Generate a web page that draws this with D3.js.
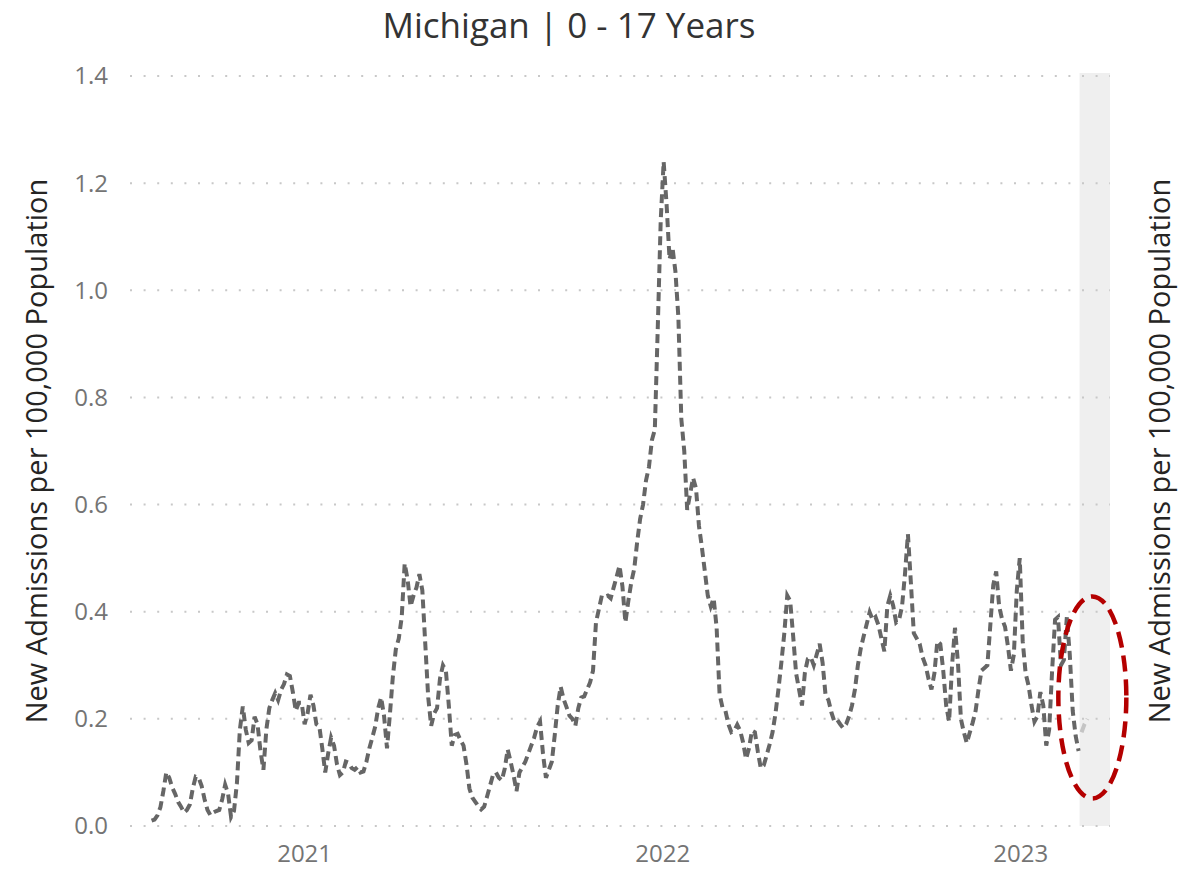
<!DOCTYPE html>
<html>
<head>
<meta charset="utf-8">
<script src="https://cdn.jsdelivr.net/npm/d3@7"></script>
<style>
  body { margin: 0; background: #fff; }
  text { font-family: "Segoe UI", "Open Sans", sans-serif; }
</style>
</head>
<body>
<div id="chart"></div>
<script>
var chartTitle = 'Michigan | 0 - 17 Years';
var axisTitle = 'New Admissions per 100,000 Population';

// one reading every 3 days, starting at firstDay
var firstDay = '2020-07-29';
var stepDays = 3;
var admissions = [
  0.01, 0.012, 0.02, 0.035, 0.065, 0.10, 0.09, 0.072, 0.06, 0.045,
  0.036, 0.025, 0.03, 0.04, 0.07, 0.092, 0.09, 0.075, 0.05, 0.03,
  0.02, 0.025, 0.028, 0.03, 0.05, 0.077, 0.06, 0.017, 0.028, 0.08,
  0.18, 0.223, 0.18, 0.155, 0.16, 0.204, 0.19, 0.14, 0.105, 0.18,
  0.22, 0.235, 0.248, 0.235, 0.254, 0.265, 0.283, 0.28, 0.25, 0.215,
  0.23, 0.23, 0.19, 0.21, 0.245, 0.225, 0.19, 0.186, 0.145, 0.10,
  0.135, 0.165, 0.15, 0.115, 0.095, 0.10, 0.12, 0.118, 0.108, 0.105,
  0.11, 0.10, 0.102, 0.12, 0.145, 0.165, 0.186, 0.22, 0.24, 0.205,
  0.145, 0.21, 0.28, 0.33, 0.35, 0.39, 0.49, 0.46, 0.41, 0.43,
  0.445, 0.47, 0.44, 0.34, 0.24, 0.187, 0.21, 0.22, 0.275, 0.30,
  0.29, 0.225, 0.15, 0.17, 0.172, 0.16, 0.15, 0.115, 0.07, 0.053,
  0.045, 0.037, 0.031, 0.036, 0.055, 0.075, 0.095, 0.10, 0.09, 0.085,
  0.107, 0.143, 0.12, 0.095, 0.065, 0.10, 0.11, 0.12, 0.135, 0.15,
  0.165, 0.185, 0.195, 0.135, 0.09, 0.105, 0.12, 0.17, 0.225, 0.26,
  0.237, 0.222, 0.206, 0.20, 0.187, 0.22, 0.24, 0.242, 0.255, 0.268,
  0.29, 0.38, 0.405, 0.43, 0.428, 0.43, 0.425, 0.445, 0.465, 0.486,
  0.447, 0.38, 0.42, 0.455, 0.48, 0.53, 0.573, 0.60, 0.645, 0.67,
  0.72, 0.74, 0.93, 1.13, 1.24, 1.16, 1.058, 1.08, 1.035, 0.95,
  0.76, 0.70, 0.59, 0.62, 0.65, 0.63, 0.56, 0.52, 0.475, 0.43,
  0.41, 0.425, 0.37, 0.246, 0.221, 0.215, 0.19, 0.175, 0.178, 0.189,
  0.178, 0.156, 0.125, 0.145, 0.178, 0.175, 0.139, 0.108, 0.113, 0.132,
  0.152, 0.175, 0.21, 0.255, 0.305, 0.36, 0.43, 0.42, 0.355, 0.285,
  0.255, 0.225, 0.287, 0.312, 0.315, 0.30, 0.32, 0.34, 0.305, 0.245,
  0.235, 0.212, 0.195, 0.198, 0.19, 0.183, 0.19, 0.205, 0.225, 0.255,
  0.30, 0.332, 0.355, 0.377, 0.399, 0.385, 0.39, 0.375, 0.35, 0.326,
  0.41, 0.43, 0.411, 0.38, 0.385, 0.41, 0.47, 0.545, 0.455, 0.36,
  0.35, 0.34, 0.315, 0.30, 0.275, 0.255, 0.285, 0.345, 0.34, 0.29,
  0.225, 0.195, 0.30, 0.37, 0.305, 0.20, 0.175, 0.155, 0.174, 0.193,
  0.215, 0.255, 0.29, 0.295, 0.30, 0.375, 0.45, 0.475, 0.41, 0.386,
  0.372, 0.335, 0.29, 0.32, 0.44, 0.50, 0.345, 0.285, 0.262, 0.225,
  0.195, 0.205, 0.25, 0.225, 0.15, 0.18, 0.29, 0.385, 0.39, 0.30,
  0.31, 0.39, 0.32, 0.215, 0.168, 0.14
];
// most recent (incomplete) readings, drawn lighter
var provisional = [0.175, 0.19, 0.20];

var yTicks = [0, 0.2, 0.4, 0.6, 0.8, 1.0, 1.2, 1.4];
var yearTicks = ['2021-01-01', '2022-01-01', '2023-01-01'];
var xDomain = ['2020-07-07', '2023-04-02'];
var pendingFrom = '2023-03-02';
var highlight = { date: '2023-03-15', value: 0.24 };

function drawChart() {
  var width = 1191, height = 870;
  var plotLeft = 130, plotRight = 1110, plotTop = 76, plotBottom = 826;

  var parse = d3.timeParse('%Y-%m-%d');
  var start = parse(firstDay);

  var rows = admissions.map(function(v, i) {
    return { date: d3.timeDay.offset(start, i * stepDays), value: v };
  });
  var lateRows = provisional.map(function(v, i) {
    return { date: d3.timeDay.offset(start, (admissions.length + i) * stepDays), value: v };
  });

  var x = d3.scaleTime().domain(xDomain.map(parse)).range([plotLeft, plotRight]);
  var y = d3.scaleLinear().domain([0, 1.4]).range([plotBottom, plotTop]);

  var svg = d3.select('#chart')
    .append('svg')
    .attr('width', width)
    .attr('height', height);

  // shaded area for the latest, still incomplete weeks
  var bandX = x(parse(pendingFrom));
  svg.append('rect')
    .attr('x', bandX)
    .attr('y', plotTop - 3)
    .attr('width', plotRight - bandX)
    .attr('height', plotBottom - plotTop + 3)
    .attr('fill', '#efefef');

  // dotted grid
  svg.append('g')
    .selectAll('line')
    .data(yTicks)
    .enter()
    .append('line')
    .attr('x1', plotLeft)
    .attr('x2', plotRight)
    .attr('y1', function(d) { return y(d); })
    .attr('y2', function(d) { return y(d); })
    .attr('stroke', '#c8c8c8')
    .attr('stroke-width', 2)
    .attr('stroke-dasharray', '2,11.6');

  svg.append('g')
    .selectAll('text')
    .data(yTicks)
    .enter()
    .append('text')
    .attr('x', 108)
    .attr('y', function(d) { return y(d); })
    .attr('dy', '0.35em')
    .attr('text-anchor', 'end')
    .attr('fill', '#747474')
    .style('font-size', '24px')
    .text(function(d) { return d3.format('.1f')(d); });

  svg.append('g')
    .selectAll('text')
    .data(yearTicks)
    .enter()
    .append('text')
    .attr('x', function(d) { return x(parse(d)); })
    .attr('y', 862)
    .attr('text-anchor', 'middle')
    .attr('fill', '#747474')
    .style('font-size', '24px')
    .text(function(d) { return d.slice(0, 4); });

  var line = d3.line()
    .x(function(d) { return x(d.date); })
    .y(function(d) { return y(d.value); });

  svg.append('path')
    .datum(rows)
    .attr('d', line)
    .attr('fill', 'none')
    .attr('stroke', '#666666')
    .attr('stroke-width', 4)
    .attr('stroke-dasharray', '9,5');

  svg.append('path')
    .datum(lateRows)
    .attr('d', line)
    .attr('fill', 'none')
    .attr('stroke', '#c4c4c4')
    .attr('stroke-width', 4)
    .attr('stroke-dasharray', '9,5');

  // red call-out around the latest readings
  svg.append('ellipse')
    .attr('cx', x(parse(highlight.date)))
    .attr('cy', y(highlight.value))
    .attr('rx', 34)
    .attr('ry', 101)
    .attr('fill', 'none')
    .attr('stroke', '#b40000')
    .attr('stroke-width', 4.5)
    .attr('stroke-dasharray', '16,8');

  svg.append('text')
    .attr('x', 569)
    .attr('y', 38)
    .attr('text-anchor', 'middle')
    .attr('fill', '#333333')
    .style('font-size', '35px')
    .text(chartTitle);

  [37, 1160].forEach(function(cx) {
    svg.append('text')
      .attr('transform', 'translate(' + cx + ',451) rotate(-90)')
      .attr('dy', '0.35em')
      .attr('text-anchor', 'middle')
      .attr('fill', '#252423')
      .style('font-size', '29px')
      .text(axisTitle);
  });
}

drawChart();
</script>
</body>
</html>
